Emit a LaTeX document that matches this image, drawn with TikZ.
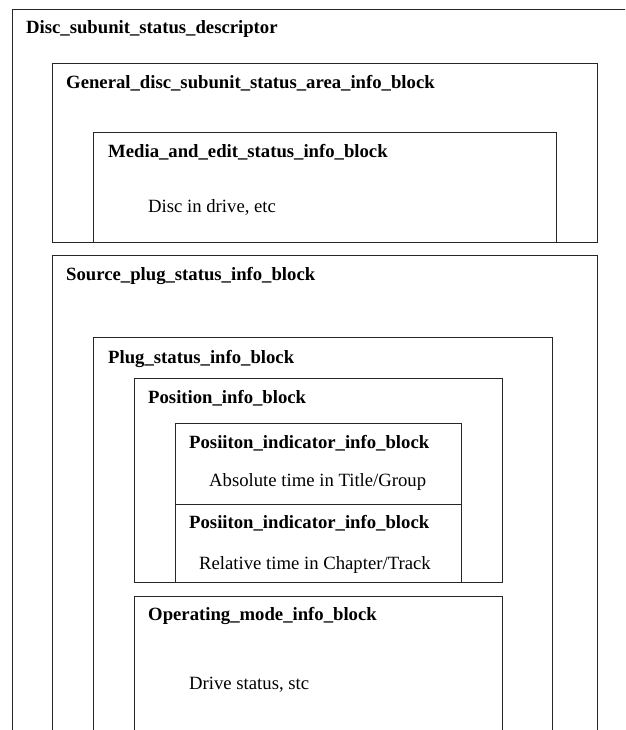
\documentclass[tikz,border=0pt]{standalone}
\usepackage{fontspec}
\setmainfont{Liberation Serif}
\begin{document}
\begin{tikzpicture}[x=1pt,y=-1pt,
    blk/.style={draw=black!85,line width=1pt},
    title/.style={anchor=base west,inner sep=0pt,font=\fontsize{18.7}{22}\selectfont\bfseries},
    note/.style={anchor=base west,inner sep=0pt,font=\fontsize{18.7}{22}\selectfont}]

\useasboundingbox (0,0) rectangle (625,730);
\clip (0,0) rectangle (625,730);

% Outer descriptor, runs off the right and the bottom
\draw[blk] (12,745) |- (640,10);
\node[title] (desc) at (26,34) {Disc\_subunit\_status\_descriptor};

% General area with the media block
\draw[blk] (52,64) rectangle (597,242);
\node[title] (general) at (66,89) {General\_disc\_subunit\_status\_area\_info\_block};
\draw[blk] (93,133) rectangle (556,242);
\node[title] (media) at (108,158) {Media\_and\_edit\_status\_info\_block};
\node[note] (disc) at (148,212) {Disc in drive, etc};

% Source plug, open at the bottom
\draw[blk] (52,745) |- (597,255) -- (597,745);
\node[title] (source) at (66,280) {Source\_plug\_status\_info\_block};
\draw[blk] (93,745) |- (552,337) -- (552,745);
\node[title] (plug) at (108,363) {Plug\_status\_info\_block};

% Position block with two indicators
\draw[blk] (134,378) rectangle (502,582);
\node[title] (position) at (148,403) {Position\_info\_block};
\draw[blk] (175,423) rectangle (461,504);
\node[title] (ind1) at (189,448) {Posiiton\_indicator\_info\_block};
\node[note] (abs) at (209,486) {Absolute time in Title/Group};
\draw[blk] (175,504) rectangle (461,582);
\node[title] (ind2) at (189,528) {Posiiton\_indicator\_info\_block};
\node[note] (rel) at (199,569) {Relative time in Chapter/Track};

% Operating mode, open at the bottom
\draw[blk] (134,745) |- (502,596) -- (502,745);
\node[title] (opmode) at (148,620) {Operating\_mode\_info\_block};
\node[note] (drive) at (189,689) {Drive status, stc};

\end{tikzpicture}
\end{document}
